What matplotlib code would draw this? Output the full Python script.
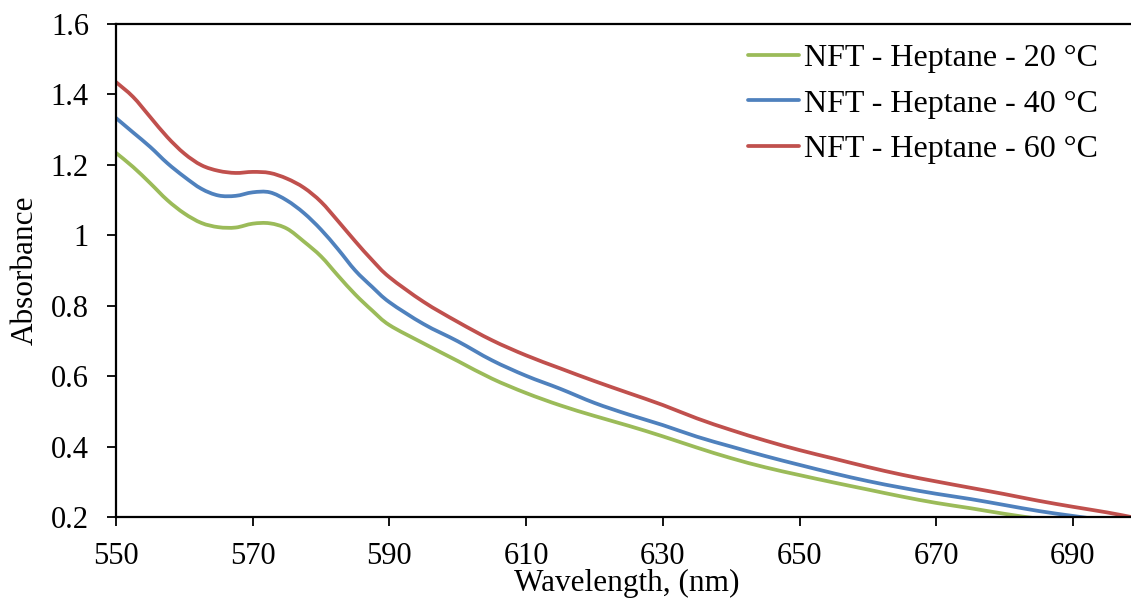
import matplotlib
matplotlib.use('Agg')
import matplotlib.pyplot as plt
from matplotlib.path import Path
from matplotlib.patches import PathPatch
from matplotlib.lines import Line2D

plt.rcParams['font.family'] = ['Liberation Serif', 'DejaVu Serif']

# Wavelength grid (nm)
wavelength = [550, 552.5, 555, 557.5, 560, 562.5, 565, 567.5, 570, 572.5, 575, 577.5,
              580, 582.5, 585, 587.5, 590, 595, 600, 605, 610, 615, 620, 625, 630,
              635, 640, 645, 650, 655, 660, 665, 670, 675, 680, 685, 690, 695, 698.5]

# Absorbance
abs_20 = [1.234, 1.194, 1.148, 1.100, 1.062, 1.035, 1.023, 1.022, 1.033, 1.034, 1.019, 0.982,
          0.940, 0.885, 0.832, 0.786, 0.745, 0.693, 0.643, 0.593, 0.552, 0.517, 0.487, 0.459, 0.429,
          0.397, 0.367, 0.341, 0.319, 0.298, 0.278, 0.258, 0.240, 0.225, 0.209, 0.195, 0.184, 0.173, 0.165]
abs_40 = [1.333, 1.292, 1.251, 1.205, 1.166, 1.132, 1.113, 1.112, 1.122, 1.122, 1.099, 1.063,
          1.016, 0.960, 0.900, 0.853, 0.810, 0.748, 0.699, 0.645, 0.601, 0.564, 0.524, 0.491, 0.461,
          0.428, 0.400, 0.373, 0.348, 0.324, 0.302, 0.283, 0.266, 0.251, 0.234, 0.217, 0.203, 0.190, 0.182]
abs_60 = [1.435, 1.393, 1.336, 1.279, 1.232, 1.199, 1.183, 1.177, 1.180, 1.177, 1.161, 1.135,
          1.095, 1.040, 0.983, 0.929, 0.881, 0.811, 0.754, 0.702, 0.659, 0.622, 0.586, 0.552, 0.518,
          0.480, 0.447, 0.417, 0.390, 0.366, 0.342, 0.320, 0.301, 0.283, 0.265, 0.246, 0.229, 0.213, 0.200]

labels = ['NFT - Heptane - 20 °C', 'NFT - Heptane - 40 °C', 'NFT - Heptane - 60 °C']
colors = ['#9BBB59', '#4F81BD', '#C0504D']
yticks = [0.2, 0.4, 0.6, 0.8, 1.0, 1.2, 1.4, 1.6]
ytick_labels = ['0.2', '0.4', '0.6', '0.8', '1', '1.2', '1.4', '1.6']
xticks = [550, 570, 590, 610, 630, 650, 670, 690]


def smooth_path(xs, ys):
    # Excel-style smoothed line: cubic Bezier segments through the data points
    pts = list(zip(xs, ys))
    n = len(pts)
    verts = [pts[0]]
    codes = [Path.MOVETO]
    for i in range(n - 1):
        p0 = pts[i - 1] if i > 0 else pts[i]
        p1 = pts[i]
        p2 = pts[i + 1]
        p3 = pts[i + 2] if i + 2 < n else pts[i + 1]
        c1 = (p1[0] + (p2[0] - p0[0]) / 6, p1[1] + (p2[1] - p0[1]) / 6)
        c2 = (p2[0] - (p3[0] - p1[0]) / 6, p2[1] - (p3[1] - p1[1]) / 6)
        verts += [c1, c2, p2]
        codes += [Path.CURVE4] * 3
    return Path(verts, codes)


fig = plt.figure(figsize=(11.31, 6.02), dpi=100)
ax = fig.add_axes([116 / 1131, 1 - 517 / 602, 1 - 116 / 1131, (517 - 24) / 602])

handles = []
for series, lab, col in zip([abs_20, abs_40, abs_60], labels, colors):
    ax.add_patch(PathPatch(smooth_path(wavelength, series), fill=False,
                           edgecolor=col, lw=2.7, capstyle='round', joinstyle='round'))
    handles.append(Line2D([], [], color=col, lw=2.7, solid_capstyle='round'))

ax.set_xlim(550, 698.5)
ax.set_ylim(0.2, 1.6)
ax.set_xticks(xticks)
ax.set_yticks(yticks)
ax.set_yticklabels(ytick_labels)
ax.tick_params(axis='both', direction='out', length=6.5, width=1.3, labelsize=22)
ax.tick_params(axis='y', pad=13)
ax.tick_params(axis='x', pad=11.5)

for side in ['left', 'bottom', 'top']:
    ax.spines[side].set_linewidth(1.6)
ax.spines['right'].set_visible(False)

ax.set_xlabel('Wavelength, (nm)', fontsize=22.5)
ax.set_ylabel('Absorbance', fontsize=22.5)
ax.xaxis.set_label_coords(0.503, -0.106)
ax.yaxis.set_label_coords(-0.075, 0.501)

ax.legend(handles, labels, loc='upper right', bbox_to_anchor=(1114 / 1131, 1 - 28 / 602),
          bbox_transform=fig.transFigure, frameon=False, fontsize=23,
          handlelength=1.6, handletextpad=0.15, labelspacing=0.5, borderpad=0)

fig.savefig('out.png', dpi=100)
